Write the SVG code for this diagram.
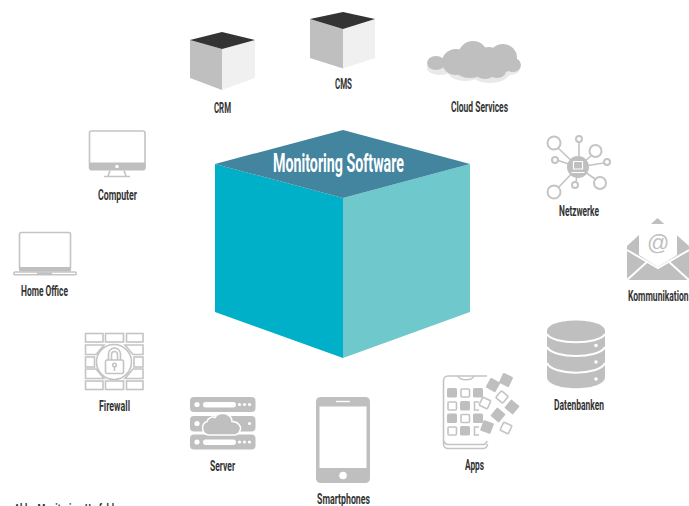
<svg xmlns="http://www.w3.org/2000/svg" width="689" height="506" viewBox="0 0 689 506">
<style>
text{font-family:"Roboto","Liberation Sans",sans-serif;font-weight:700;font-size:15.500px;fill:#333}
.f{fill:#bfbfbf}.s{fill:none;stroke:#c4c4c4;stroke-width:1.600}.w{fill:#fff}.ws{fill:none;stroke:#fff;stroke-width:2}
.l{fill:#bfbfbf}.r{fill:#f0f0f0}.t{fill:#333}
</style>
<rect width="689" height="506" fill="#fff"/>
<g id="connectors"></g>
<g id="monitoring">
<polygon points="215,164 343,198 343,358 215,312" fill="#00afc8"/>
<polygon points="470,164 343,198 343,358 470,312" fill="#6fc8cb"/>
<polygon points="343,130 470,164 343,198 215,164" fill="#43849f"/>
<text x="273" y="172" textLength="131" lengthAdjust="spacingAndGlyphs" style="font-size:25px;font-weight:700;fill:#fff">Monitoring Software</text>
</g>
<g id="crm">
<polygon class="l" points="190,40 222,49 222,90 190,78"/><polygon class="r" points="255,40 222,49 222,90 255,78"/><polygon class="t" points="222,32 255,40 222,49 190,40"/>
<text x="214" y="112.500" textLength="17" lengthAdjust="spacingAndGlyphs">CRM</text>
</g>
<g id="cms">
<polygon class="l" points="310,19 343,29 343,68.500 310,58"/><polygon class="r" points="375,19 343,29 343,68.500 375,58"/><polygon class="t" points="343,12 375,19 343,29 310,19"/>
<text x="335" y="89" textLength="17" lengthAdjust="spacingAndGlyphs">CMS</text>
</g>
<g id="cloud">
<g fill="#e9e9e9"><ellipse cx="440" cy="68" rx="13" ry="7"/><ellipse cx="465" cy="70" rx="18" ry="11"/><ellipse cx="490" cy="72" rx="20" ry="11"/><ellipse cx="510" cy="68" rx="10" ry="7"/></g>
<g class="f"><ellipse cx="436" cy="63" rx="9" ry="7"/><ellipse cx="456" cy="62" rx="14" ry="13"/><circle cx="473" cy="56" r="15"/><circle cx="489" cy="60" r="13"/><circle cx="503" cy="58" r="14"/><ellipse cx="513" cy="65" rx="8" ry="7"/><ellipse cx="470" cy="70" rx="14" ry="8"/><ellipse cx="485" cy="72" rx="10" ry="7"/><ellipse cx="497" cy="71" rx="9" ry="7"/></g>
<text x="451" y="112" textLength="57" lengthAdjust="spacingAndGlyphs">Cloud Services</text>
</g>
<g id="computer">
<rect class="s" x="89.500" y="131" width="55.500" height="38" rx="2"/><path class="f" d="M89 162.500H145.500V168a2.500 2.500 0 0 1-2.500 2.500H91.500a2.500 2.500 0 0 1-2.500-2.500Z"/>
<circle class="w" cx="117" cy="166.500" r="1.800"/><path class="s" d="M110 170.500 108 176M124 170.500 126 176M104 176.500H130"/>
<text x="98" y="199.500" textLength="39" lengthAdjust="spacingAndGlyphs">Computer</text>
</g>
<g id="home-office">
<rect class="s" x="19.500" y="232.500" width="51" height="37" rx="2"/><path class="f" d="M19 267H71V270a1.500 1.500 0 0 1-1.500 1.500H20.500a1.500 1.500 0 0 1-1.500-1.500Z"/>
<rect class="s" x="13.800" y="272" width="62.500" height="2.800" rx="1.400"/><rect class="f" x="37" y="272.500" width="15" height="2"/>
<text x="21" y="296" textLength="47" lengthAdjust="spacingAndGlyphs">Home Office</text>
</g>
<g id="firewall">
<g class="s"><rect x="85.500" y="333.500" width="17.500" height="8.500"/><rect x="105.500" y="333.500" width="18" height="8.500"/><rect x="126.500" y="333.500" width="16.500" height="8.500"/>
<rect x="85.500" y="381" width="17.500" height="8.500"/><rect x="105.500" y="381" width="18" height="8.500"/><rect x="126.500" y="381" width="16.500" height="8.500"/>
<path d="M85.500 345H104L96 354.500H85.500ZM143 345H125L133 354.500H143ZM85.500 369H96L104 378.500H85.500ZM143 369H133L125 378.500H143Z"/>
<rect x="85.500" y="357" width="9" height="10"/><rect x="134" y="357" width="9" height="10"/>
<circle cx="114" cy="362" r="17.500"/><rect x="105.500" y="360" width="18" height="13.500" rx="1.500"/><path d="M108.500 360V354a6 6 0 0 1 12 0V360M111.500 360V354.500a3 3 0 0 1 6 0V360"/><circle cx="114.500" cy="365" r="1.800"/><path d="M114.500 367V371"/></g>
<text x="99" y="411" textLength="31" lengthAdjust="spacingAndGlyphs">Firewall</text>
</g>
<g id="server">
<rect class="f" x="190" y="397" width="65.500" height="15" rx="4"/><rect class="f" x="190" y="416" width="65.500" height="15.500" rx="4"/><rect class="f" x="190" y="434.500" width="65.500" height="15" rx="4"/>
<g class="w"><circle cx="197" cy="404.500" r="2.600"/><rect x="203" y="402" width="33" height="5.500" rx="2.700"/><circle cx="239.500" cy="404.500" r="1.600"/><circle cx="244.500" cy="404.500" r="1.600"/><circle cx="249.500" cy="404.500" r="1.600"/>
<circle cx="197" cy="423.500" r="2.600"/><circle cx="249.500" cy="423.500" r="1.600"/>
<circle cx="197" cy="442" r="2.600"/><rect x="203" y="439.500" width="33" height="5.500" rx="2.700"/><circle cx="239.500" cy="442" r="1.600"/><circle cx="244.500" cy="442" r="1.600"/><circle cx="249.500" cy="442" r="1.600"/></g>
<path class="f" stroke="#fff" stroke-width="1.500" d="M209 435a7 7 0 0 1-2-13.500c1-3.500 5-5.500 8-4 2-4 9-5.500 13-2.500 3 1.500 4 4 4 6.500 6 0 10 5 8 9-1 3-3 4.500-6 4.500Z"/>
<text x="210" y="471" textLength="25" lengthAdjust="spacingAndGlyphs">Server</text>
</g>
<g id="smartphones">
<rect class="f" x="316" y="397" width="54" height="86" rx="4.500"/><rect class="w" x="319.500" y="406.500" width="47" height="61.500"/>
<rect class="w" x="336" y="400.800" width="14" height="1.400"/><circle class="w" cx="343" cy="475.500" r="3.800"/>
<text x="317" y="503.500" textLength="53" lengthAdjust="spacingAndGlyphs">Smartphones</text>
</g>
<g id="apps">
<path class="s" d="M487 376H448a4.500 4.500 0 0 0-4.500 4.500V444a4.500 4.500 0 0 0 4.500 4.500H483a4.500 4.500 0 0 0 4.500-4.500"/>
<path class="s" d="M444 441a4.500 4.500 0 0 0 4.500 3.500H482a4.500 4.500 0 0 0 5-3.500M458 376c2 5 14 5 16 0"/>
<g class="f"><rect x="447" y="388" width="10" height="9.500" rx="1.500"/><rect x="473" y="388" width="10" height="9.500" rx="1.500"/><rect x="460" y="401" width="10" height="9.500" rx="1.500"/><rect x="447" y="413.500" width="10" height="9.500" rx="1.500"/><rect x="473" y="413.500" width="10" height="9.500" rx="1.500"/><rect x="460" y="426" width="10" height="9.500" rx="1.500"/></g>
<g class="s"><rect x="461" y="389" width="8.500" height="8" rx="1"/><rect x="448" y="402" width="8.500" height="8" rx="1"/><rect x="461" y="414.500" width="8.500" height="8" rx="1"/><rect x="448" y="427" width="8.500" height="8" rx="1"/><path d="M479 402H474.500V410H479M479 427H474.500V435H479"/></g>
<g class="f"><rect x="-5.500" y="-5.500" width="11" height="11" rx="1" transform="translate(493 385) rotate(30)"/><rect x="-5.500" y="-5.500" width="11" height="11" rx="1" transform="translate(506 380) rotate(25)"/><rect x="-5.500" y="-5.500" width="11" height="11" rx="1" transform="translate(512 407) rotate(40)"/><rect x="-5.500" y="-5.500" width="11" height="11" rx="1" transform="translate(498 415) rotate(40)"/><rect x="-5.500" y="-5.500" width="11" height="11" rx="1" transform="translate(487 427) rotate(20)"/></g>
<g fill="#fff" stroke="#c4c4c4" stroke-width="1.600"><rect x="-4.500" y="-4.500" width="9" height="9" rx="1" transform="translate(502 397) rotate(40)"/><rect x="-4.500" y="-4.500" width="9" height="9" rx="1" transform="translate(485 403) rotate(25)"/><rect x="-4.500" y="-4.500" width="9" height="9" rx="1" transform="translate(506 428) rotate(25)"/></g>
<text x="465" y="470" textLength="19" lengthAdjust="spacingAndGlyphs">Apps</text>
</g>
<g id="datenbanken">
<path class="f" d="M547 331C547 317 605 317 605 331V377C605 392 547 392 547 377Z"/>
<path class="ws" stroke-width="1.500" d="M547 334C553 345 599 345 605 334"/>
<path class="ws" d="M547 347C553 359 599 359 605 347M547 363C553 376 599 376 605 363"/>
<circle class="w" cx="596" cy="345.500" r="1.800"/><circle class="w" cx="596" cy="362" r="1.800"/><circle class="w" cx="596" cy="379" r="1.800"/>
<text x="554" y="410" textLength="50" lengthAdjust="spacingAndGlyphs">Datenbanken</text>
</g>
<g id="kommunikation">
<path class="f" d="M627 246 657.500 218 689 246V280H627Z"/>
<path class="w" d="M639 224H677V255L658 267 639 255Z"/>
<path class="ws" stroke-width="1.600" d="M627 250 658 268 689 250M627 280 648 261M689 280 668 261"/>
<text x="647" y="250" style="font-family:'Liberation Sans',sans-serif;font-size:22px;font-weight:400;fill:#bfbfbf">@</text>
<text x="628" y="301" textLength="60.500" lengthAdjust="spacingAndGlyphs">Kommunikation</text>
</g>
<g id="netzwerke">
<path class="s" stroke-width="2" d="M578 167 558 148M579 142V167M578 167 591 156M578 167 604 163M578 167 595 179M578 167 576 182M578 167 558 188M558 160.500 578 167"/>
<circle class="f" cx="578" cy="167" r="11"/>
<g fill="#fff" stroke="#c4c4c4" stroke-width="2"><circle cx="554" cy="143" r="6.500"/><circle cx="579" cy="139" r="3"/><circle cx="595.500" cy="151" r="6"/><circle cx="607" cy="162" r="3"/><circle cx="600" cy="183" r="6"/><circle cx="575" cy="185" r="3"/><circle cx="554" cy="192" r="6.500"/><circle cx="555" cy="160" r="3"/></g>
<path fill="none" stroke="#fff" stroke-width="1.200" d="M573.500 161.500H582.500V169H573.500ZM571.500 172.500H584.500"/>
<text x="559" y="216" textLength="40" lengthAdjust="spacingAndGlyphs">Netzwerke</text>
</g>
<g id="caption"><text x="14" y="513" textLength="100" lengthAdjust="spacingAndGlyphs" style="font-size:13px">Abb.: Monitoring-Umfeld</text></g>
</svg>
